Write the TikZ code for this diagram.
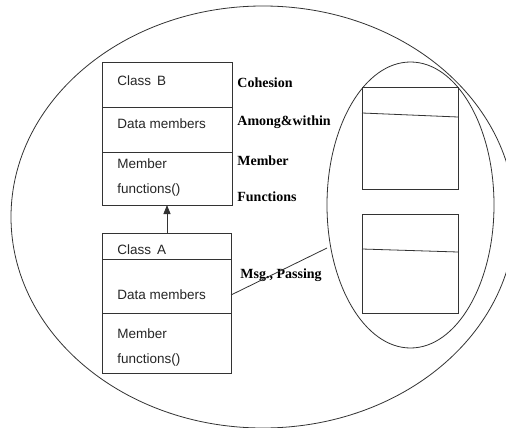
\documentclass[tikz,border=0pt]{standalone}
\usepackage{fontspec}
\setmainfont{Liberation Serif}
\newfontfamily\boxfont{Liberation Sans}
\usetikzlibrary{arrows.meta}
\begin{document}
\begin{tikzpicture}[x=1pt,y=-1pt,
  line width=0.8pt,
  ln/.style={draw=black!80},
  boxtxt/.style={font=\boxfont\fontsize{13.5}{15}\selectfont, anchor=west, inner sep=0pt, text=black!85},
  lbl/.style={font=\fontsize{14}{16}\selectfont\bfseries, anchor=west, inner sep=0pt}]
\useasboundingbox (0,0) rectangle (506,428);
\clip (0,0) rectangle (506,428);
\fill[white] (0,0) rectangle (506,428);
% big ellipse
\draw[ln] (263,217) ellipse [x radius=252, y radius=211];
% small ellipse
\draw[ln] (410.5,205) ellipse [x radius=83.5, y radius=143];
% Class B
\node[ln, minimum width=130, minimum height=143, inner sep=0, anchor=north west] (B) at (102,62) {};
\draw[ln] (102,107) -- (232,107);
\draw[ln] (102,152) -- (232,152);
\node[boxtxt] (b1) at (117,81) {Class\, B};
\node[boxtxt] (b2) at (117,124) {Data members};
\node[boxtxt] (b3) at (117,164) {Member};
\node[boxtxt] (b4) at (117,190) {functions()};
% Class A
\node[ln, minimum width=129, minimum height=140, inner sep=0, anchor=north west] (A) at (102,233) {};
\draw[ln] (102,259) -- (231,259);
\draw[ln] (102,313) -- (231,313);
\node[boxtxt] (a1) at (117,250) {Class\, A};
\node[boxtxt] (a2) at (117,295) {Data members};
\node[boxtxt] (a3) at (117,334) {Member};
\node[boxtxt] (a4) at (117,360) {functions()};
% inheritance arrow
\coordinate (at) at (167,233);
\coordinate (ah) at (167,205);
\draw[ln, -{Triangle[length=9pt,width=7pt]}, fill=black] (at) -- (ah);
% labels
\node[lbl] (l1) at (237,83) {Cohesion};
\node[lbl] (l2) at (237,122) {Among\&within};
\node[lbl] (l3) at (237,161) {Member};
\node[lbl] (l4) at (237,197) {Functions};
\node[lbl] (l5) at (240,275) {Msg., Passing};
% message line
\coordinate (m1) at (231,295);
\coordinate (m2) at (327,248);
\draw[ln] (m1) -- (m2);
% right boxes
\node[ln, minimum width=96, minimum height=102, inner sep=0, anchor=north west] (R1) at (362,87) {};
\draw[ln] (362,113) -- (458,117);
\node[ln, minimum width=96, minimum height=99, inner sep=0, anchor=north west] (R2) at (362,214) {};
\draw[ln] (362,249) -- (458,252);
\end{tikzpicture}
\end{document}
